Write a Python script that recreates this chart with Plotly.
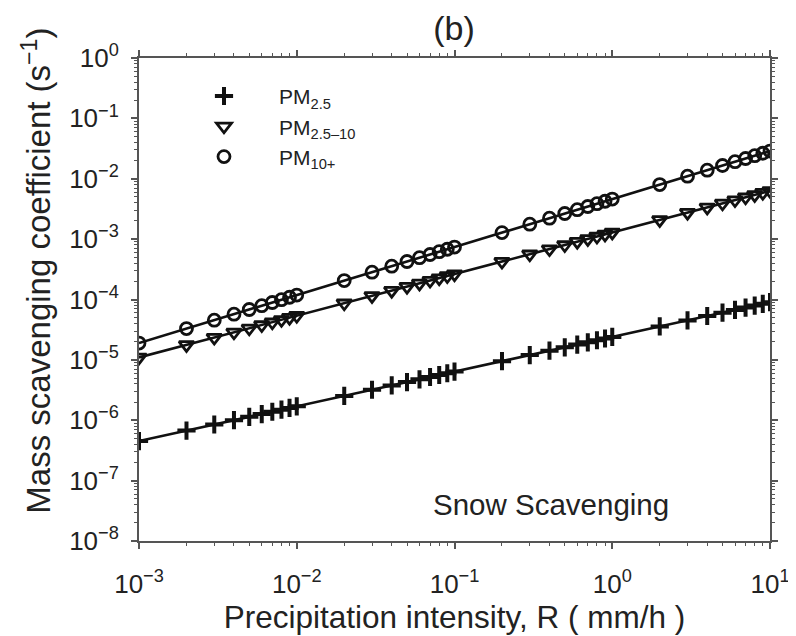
import plotly.graph_objects as go

# Precipitation intensity R (mm/h)
R = [0.001, 0.002, 0.003, 0.004, 0.005, 0.006, 0.007, 0.008, 0.009,
     0.01, 0.02, 0.03, 0.04, 0.05, 0.06, 0.07, 0.08, 0.09,
     0.1, 0.2, 0.3, 0.4, 0.5, 0.6, 0.7, 0.8, 0.9,
     1, 2, 3, 4, 5, 6, 7, 8, 9, 10]

pm25 = [4.52e-7, 6.74e-7, 8.50e-7, 1.004e-6, 1.141e-6, 1.267e-6, 1.384e-6, 1.496e-6, 1.599e-6,
        1.70e-6, 2.53e-6, 3.20e-6, 3.77e-6, 4.29e-6, 4.76e-6, 5.20e-6, 5.62e-6, 6.01e-6,
        6.39e-6, 9.52e-6, 1.201e-5, 1.418e-5, 1.611e-5, 1.790e-5, 1.955e-5, 2.114e-5, 2.259e-5,
        2.40e-5, 3.58e-5, 4.51e-5, 5.33e-5, 6.06e-5, 6.73e-5, 7.35e-5, 7.94e-5, 8.49e-5,
        9.02e-5]

pm25_10 = [1.10e-5, 1.77e-5, 2.34e-5, 2.86e-5, 3.33e-5, 3.78e-5, 4.20e-5, 4.61e-5, 5.00e-5,
           5.38e-5, 8.67e-5, 1.148e-4, 1.399e-4, 1.633e-4, 1.851e-4, 2.059e-4, 2.257e-4, 2.449e-4,
           2.63e-4, 4.25e-4, 5.62e-4, 6.85e-4, 8.00e-4, 9.07e-4, 1.009e-3, 1.106e-3, 1.200e-3,
           1.29e-3, 2.08e-3, 2.75e-3, 3.36e-3, 3.92e-3, 4.44e-3, 4.94e-3, 5.41e-3, 5.87e-3,
           6.32e-3]

pm10p = [1.90e-5, 3.30e-5, 4.55e-5, 5.72e-5, 6.83e-5, 7.89e-5, 8.92e-5, 9.93e-5, 1.090e-4,
         1.185e-4, 2.056e-4, 2.838e-4, 3.568e-4, 4.260e-4, 4.924e-4, 5.566e-4, 6.190e-4, 6.797e-4,
         7.39e-4, 1.282e-3, 1.770e-3, 2.225e-3, 2.657e-3, 3.071e-3, 3.471e-3, 3.861e-3, 4.239e-3,
         4.61e-3, 8.00e-3, 1.104e-2, 1.388e-2, 1.657e-2, 1.915e-2, 2.165e-2, 2.408e-2, 2.644e-2,
         2.875e-2]

x_tick_vals = [1e-3, 1e-2, 1e-1, 1e0, 1e1]
x_tick_text = ["10<sup>\u22123</sup>", "10<sup>\u22122</sup>", "10<sup>\u22121</sup>",
               "10<sup>0</sup>", "10<sup>1</sup>"]
y_tick_vals = [1e-8, 1e-7, 1e-6, 1e-5, 1e-4, 1e-3, 1e-2, 1e-1, 1e0]
y_tick_text = ["10<sup>\u22128</sup>", "10<sup>\u22127</sup>", "10<sup>\u22126</sup>",
               "10<sup>\u22125</sup>", "10<sup>\u22124</sup>", "10<sup>\u22123</sup>",
               "10<sup>\u22122</sup>", "10<sup>\u22121</sup>", "10<sup>0</sup>"]

series_names = ["PM<sub>2.5</sub>", "PM<sub>2.5\u201310</sub>", "PM<sub>10+</sub>"]
series_values = [pm25, pm25_10, pm10p]
symbols = ["cross-thin-open", "triangle-down-open", "circle-open"]
sizes = [13, 13, 12]
mlw = [4, 2.8, 2.8]

FONT = "Liberation Sans, Arial, sans-serif"
AX = "#555555"
TXT = "#222222"
PAD = "\u00a0" * 6

fig = go.Figure()
for vals in series_values:
    fig.add_trace(go.Scatter(x=R, y=vals, mode="lines", line=dict(color="#111111", width=2.6),
                             showlegend=False, hoverinfo="skip"))
for name, vals, sym, sz, lw in zip(series_names, series_values, symbols, sizes, mlw):
    fig.add_trace(go.Scatter(x=R, y=vals, mode="markers", name=PAD + name,
                             marker=dict(symbol=sym, size=sz, color="#111111",
                                         line=dict(color="#111111", width=lw))))

axis_common = dict(
    type="log", showgrid=False, zeroline=False, automargin=False,
    showline=True, linecolor=AX, linewidth=2, mirror="ticks",
    ticks="outside", ticklen=6, tickwidth=1.5, tickcolor=AX,
    tickfont=dict(family=FONT, size=26, color=TXT),
    minor=dict(dtick="D1", ticks="outside", ticklen=3, tickwidth=1.2, tickcolor=AX,
               showgrid=False),
)

fig.update_xaxes(**axis_common, range=[-3, 1], tickmode="array",
                 tickvals=x_tick_vals, ticktext=x_tick_text, ticklabelstandoff=13,
                 title=dict(text="Precipitation intensity, R ( mm/h )",
                            font=dict(family=FONT, size=31.5, color=TXT), standoff=4))
fig.update_yaxes(**axis_common, range=[-8, 0], tickmode="array",
                 tickvals=y_tick_vals, ticktext=y_tick_text, ticklabelstandoff=7)

# page body has an 8 px margin; size and margins compensate so the plot frame lands
# at x 139..770, y 58..541 in the window
fig.update_layout(
    width=788, height=628,
    paper_bgcolor="white", plot_bgcolor="white",
    margin=dict(l=131, r=26, t=50, b=95),
    title=dict(text="(b)", x=0.566, xanchor="center", y=0.968, yanchor="middle",
               font=dict(family=FONT, size=34, color=TXT)),
    legend=dict(x=0.103, y=0.963, xanchor="left", yanchor="top",
                bgcolor="rgba(0,0,0,0)", tracegroupgap=0,
                font=dict(family=FONT, size=21, color=TXT)),
    annotations=[
        dict(text="Snow Scavenging", x=0.6537, y=0.075, xref="paper", yref="paper",
             xanchor="center", yanchor="middle", showarrow=False,
             font=dict(family=FONT, size=29.5, color=TXT)),
        dict(text="Mass scavenging coefficient (s<sup>\u22121</sup>)", textangle=-90,
             x=-0.163, y=0.56, xref="paper", yref="paper",
             xanchor="center", yanchor="middle", showarrow=False,
             font=dict(family=FONT, size=33, color=TXT)),
    ],
)

fig.write_html("out.html")
